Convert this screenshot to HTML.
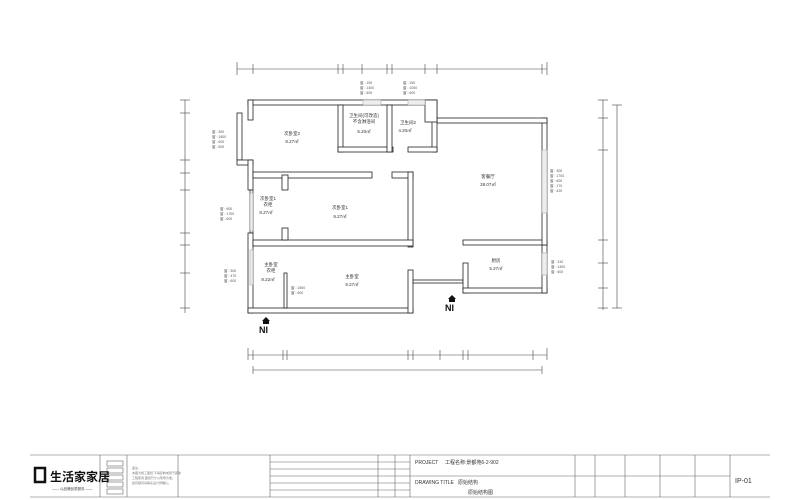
<!DOCTYPE html>
<html><head><meta charset="utf-8"><style>
html,body{margin:0;padding:0;background:#fff;}
svg{display:block;font-family:"Liberation Sans","Noto Sans CJK SC",sans-serif;}
</style></head><body>
<svg width="800" height="500" viewBox="0 0 800 500" xmlns="http://www.w3.org/2000/svg">
<rect width="800" height="500" fill="#fff"/>
<!-- dimension lines -->
<g stroke="#444" stroke-width="0.6" fill="none">
<line x1="237" y1="69" x2="547" y2="69"/>
<line x1="237" y1="62" x2="237" y2="75"/><line x1="253" y1="64" x2="253" y2="74"/><line x1="338" y1="64" x2="338" y2="74"/>
<line x1="343" y1="64" x2="343" y2="74"/><line x1="362" y1="64" x2="362" y2="74"/><line x1="387" y1="64" x2="387" y2="74"/>
<line x1="392" y1="64" x2="392" y2="74"/><line x1="425" y1="64" x2="425" y2="74"/><line x1="437" y1="64" x2="437" y2="74"/>
<line x1="542" y1="64" x2="542" y2="74"/><line x1="547" y1="62" x2="547" y2="75"/>
<line x1="248" y1="355" x2="547" y2="355"/>
<line x1="248" y1="348" x2="248" y2="360"/><line x1="253" y1="350" x2="253" y2="360"/><line x1="283" y1="350" x2="283" y2="360"/>
<line x1="287" y1="350" x2="287" y2="360"/><line x1="408" y1="350" x2="408" y2="360"/><line x1="413" y1="350" x2="413" y2="360"/>
<line x1="440" y1="350" x2="440" y2="360"/><line x1="463" y1="350" x2="463" y2="360"/><line x1="468" y1="350" x2="468" y2="360"/>
<line x1="533" y1="350" x2="533" y2="360"/><line x1="547" y1="348" x2="547" y2="360"/>
<line x1="253" y1="370" x2="542" y2="370"/><line x1="253" y1="366" x2="253" y2="374"/><line x1="542" y1="366" x2="542" y2="374"/>
<line x1="185" y1="100" x2="185" y2="313"/>
<line x1="180" y1="100" x2="190" y2="100"/><line x1="180" y1="113" x2="190" y2="113"/><line x1="180" y1="160" x2="190" y2="160"/>
<line x1="180" y1="173" x2="190" y2="173"/><line x1="180" y1="190" x2="190" y2="190"/><line x1="180" y1="233" x2="190" y2="233"/>
<line x1="180" y1="245" x2="190" y2="245"/><line x1="180" y1="273" x2="190" y2="273"/><line x1="180" y1="308" x2="190" y2="308"/>
<line x1="603" y1="100" x2="603" y2="310"/>
<line x1="598" y1="100" x2="608" y2="100"/><line x1="598" y1="118" x2="608" y2="118"/><line x1="598" y1="150" x2="608" y2="150"/>
<line x1="598" y1="240" x2="608" y2="240"/><line x1="598" y1="263" x2="608" y2="263"/><line x1="598" y1="288" x2="608" y2="288"/><line x1="598" y1="308" x2="608" y2="308"/>
<line x1="617" y1="105" x2="617" y2="308"/><line x1="612" y1="105" x2="622" y2="105"/><line x1="612" y1="308" x2="622" y2="308"/>
</g>
<!-- walls -->
<g fill="#fff" stroke="#222" stroke-width="0.8">
<rect x="248" y="100" width="189" height="5"/>
<rect x="248" y="100" width="5" height="20"/>
<rect x="237" y="113" width="5" height="47"/>
<rect x="237" y="160" width="16" height="5"/>
<rect x="248" y="160" width="5" height="30"/>
<rect x="250" y="190" width="3" height="43"/>
<rect x="248" y="233" width="5" height="80"/>
<rect x="248" y="308" width="165" height="5"/>
<rect x="408" y="270" width="5" height="43"/>
<rect x="413" y="280" width="50" height="3"/>
<rect x="463" y="263" width="5" height="30"/>
<rect x="463" y="288" width="84" height="5"/>
<rect x="542" y="245" width="5" height="48"/>
<rect x="463" y="240" width="84" height="5"/>
<rect x="542" y="118" width="5" height="127"/>
<rect x="437" y="118" width="110" height="5"/>
<rect x="432" y="100" width="5" height="52"/>
<rect x="425" y="100" width="12" height="22"/>
<rect x="408" y="147" width="29" height="5"/>
<rect x="338" y="105" width="5" height="47"/>
<rect x="338" y="147" width="55" height="5"/>
<rect x="387" y="105" width="5" height="47"/>
<rect x="253" y="172" width="119" height="6"/>
<rect x="392" y="172" width="21" height="6"/>
<rect x="408" y="172" width="5" height="75"/>
<rect x="253" y="240" width="160" height="6"/>
<rect x="282" y="175" width="6" height="15"/>
<rect x="282" y="228" width="6" height="12"/>
<rect x="284" y="273" width="3" height="35"/>
</g>
<!-- windows -->
<g fill="#eee" stroke="#999" stroke-width="0.5">
<rect x="363" y="100" width="18" height="5"/><rect x="408" y="100" width="17" height="5"/>
<rect x="542" y="150" width="5" height="63"/><rect x="542" y="253" width="5" height="22"/>
<rect x="250" y="193" width="3" height="38"/><rect x="250" y="250" width="3" height="35"/>
</g>
<!-- room labels -->
<g font-size="4.5" fill="#333" text-anchor="middle">
<text x="292" y="135">次卧室2</text><text x="292" y="143">8.27㎡</text>
<text x="364" y="117">卫生间(可改造)</text><text x="364" y="123">不含淋浴间</text><text x="364" y="133">5.20㎡</text>
<text x="408" y="124">卫生间2</text><text x="405" y="132">4.20㎡</text>
<text x="488" y="178">客餐厅</text><text x="488" y="186">28.07㎡</text>
<text x="340" y="209">次卧室1</text><text x="340" y="218">9.27㎡</text>
<text x="268" y="200">次卧室1</text><text x="268" y="206">衣柜</text><text x="266" y="214">8.27㎡</text>
<text x="271" y="266">主卧室</text><text x="271" y="272">衣柜</text><text x="268" y="281">8.22㎡</text>
<text x="352" y="278">主卧室</text><text x="352" y="286">9.27㎡</text>
<text x="496" y="262">厨房</text><text x="496" y="270">5.27㎡</text>
</g>
<g font-size="3.5" fill="#555">
<text x="212" y="133">窗 : 300</text><text x="212" y="138">窗 : 1600</text><text x="212" y="143">窗 : 600</text><text x="212" y="148">窗 : 500</text>
<text x="220" y="210">窗 : 900</text><text x="220" y="215">窗 : 1700</text><text x="220" y="220">窗 : 600</text>
<text x="224" y="272">窗 : 300</text><text x="224" y="277">窗 : 470</text><text x="224" y="282">窗 : 600</text>
<text x="550" y="172">窗 : 300</text><text x="550" y="177">窗 : 1700</text><text x="550" y="182">窗 : 600</text><text x="550" y="187">窗 : 170</text><text x="550" y="192">窗 : 420</text>
<text x="551" y="263">窗 : 310</text><text x="551" y="268">窗 : 1400</text><text x="551" y="273">窗 : 600</text>
<text x="360" y="84">窗 : 150</text><text x="360" y="89">窗 : 1400</text><text x="360" y="94">窗 : 600</text>
<text x="403" y="84">窗 : 150</text><text x="403" y="89">窗 : 1000</text><text x="403" y="94">窗 : 600</text>
<text x="291" y="289">窗 : 1500</text><text x="291" y="294">窗 : 500</text>
</g>
<!-- IN markers -->
<g fill="#111">
<polygon points="266,317 262,321 270,321"/><rect x="263" y="321" width="6" height="3"/>
<text x="259" y="333" font-size="9" font-weight="bold">NI</text>
<polygon points="452,295 448,299 456,299"/><rect x="449" y="299" width="6" height="3"/>
<text x="445" y="311" font-size="9" font-weight="bold">NI</text>
</g>
<!-- title block -->
<g stroke="#666" stroke-width="0.6" fill="none">
<line x1="30" y1="455" x2="770" y2="455"/><line x1="30" y1="497" x2="770" y2="497"/>
<line x1="100" y1="455" x2="100" y2="497"/><line x1="127" y1="455" x2="127" y2="497"/>
<line x1="178" y1="455" x2="178" y2="497"/><line x1="270" y1="455" x2="270" y2="497"/>
<line x1="378" y1="455" x2="378" y2="497"/><line x1="395" y1="455" x2="395" y2="497"/>
<line x1="270" y1="462" x2="410" y2="462"/><line x1="270" y1="469" x2="410" y2="469"/><line x1="270" y1="476" x2="410" y2="476"/>
<line x1="270" y1="483" x2="410" y2="483"/><line x1="270" y1="490" x2="410" y2="490"/>
<line x1="410" y1="455" x2="410" y2="497"/><line x1="410" y1="476" x2="575" y2="476"/>
<line x1="575" y1="455" x2="575" y2="497"/><line x1="595" y1="455" x2="595" y2="497"/><line x1="625" y1="455" x2="625" y2="497"/>
<line x1="660" y1="455" x2="660" y2="497"/><line x1="695" y1="455" x2="695" y2="497"/><line x1="730" y1="455" x2="730" y2="497"/>
<line x1="575" y1="476" x2="730" y2="476"/>
<rect x="107" y="461" width="16" height="5"/><rect x="107" y="468" width="16" height="5"/><rect x="107" y="475" width="16" height="5"/><rect x="107" y="482" width="16" height="5"/><rect x="107" y="489" width="16" height="5"/>
</g>
<rect x="35" y="468" width="10" height="14" fill="none" stroke="#111" stroke-width="2.5"/>
<text x="50" y="481" font-size="12" font-weight="bold" fill="#111">生活家家居</text>
<text x="52" y="490" font-size="3.5" fill="#444">—— 以品牌品质服务 ——</text>
<g font-size="3" fill="#777"><text x="132" y="469">备注:</text><text x="132" y="474">本图为施工图纸,不得复制或用于其他</text><text x="132" y="479">工程使用,图纸尺寸以现场为准。</text><text x="132" y="484">如有疑问请联系设计师确认。</text></g>
<g font-size="5" fill="#333">
<text x="415" y="464">PROJECT</text><text x="445" y="464">工程名称:景都苑6-2-902</text>
<text x="415" y="484">DRAWING TITLE</text><text x="458" y="484">原始结构</text><text x="468" y="494">原始结构图</text>
<text x="735" y="483" font-size="7">IP-01</text>
</g>
</svg>
</body></html>
